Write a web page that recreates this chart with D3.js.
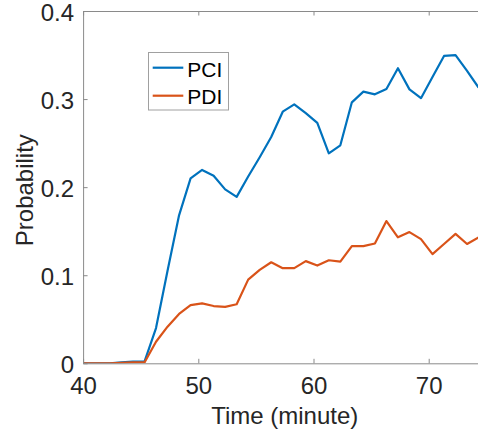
<!DOCTYPE html>
<html><head><meta charset="utf-8">
<script src="https://cdn.jsdelivr.net/npm/d3@7"></script>
<style>
html,body{margin:0;padding:0;background:#fff;}
svg{display:block;font-family:"Liberation Sans",Arial,Helvetica,sans-serif;}
</style></head>
<body>
<svg id="chart" width="478" height="437"></svg>
<script>
// ---- data ----
const times = [39.33,40.33,41.33,42.33,43.33,44.33,45.33,46.33,47.33,48.33,49.33,50.33,51.33,52.33,53.33,54.33,55.33,56.33,57.33,58.33,59.33,60.33,61.33,62.33,63.33,64.33,65.33,66.33,67.33,68.33,69.33,70.33,71.33,72.33,73.33,74.33];
const pci = [0,0,0,0,0.001,0.002,0.002,0.040,0.105,0.168,0.210,0.2195,0.213,0.1975,0.189,0.212,0.234,0.257,0.2857,0.294,0.284,0.273,0.2384,0.2475,0.2963,0.3084,0.3054,0.3114,0.335,0.311,0.301,0.325,0.349,0.350,0.332,0.313];
const pdi = [0,0,0,0,0.0005,0.001,0.001,0.0245,0.0416,0.056,0.066,0.068,0.065,0.064,0.067,0.095,0.106,0.1147,0.108,0.108,0.116,0.111,0.117,0.1154,0.133,0.133,0.136,0.1615,0.143,0.149,0.141,0.124,0.1355,0.147,0.1355,0.143];
const seriesNames = ["PCI","PDI"];
const seriesColors = ["#0072BD","#D95319"];
const xTicks = [40,50,60,70];
const yTicks = [0,0.1,0.2,0.3,0.4];
const xDomain = [40,75];
const yDomain = [0,0.4];

// ---- layout ----
const L = 83.1, R = 486.3, T = 11, B = 363.3;
const svg = d3.select("#chart");
const x = d3.scaleLinear().domain(xDomain).range([L,R]);
const y = d3.scaleLinear().domain(yDomain).range([B,T]);
const axisColor = "#8a8a8a", textColor = "#262626";
const fs = 24;

svg.append("defs").append("clipPath").attr("id","clip")
  .append("rect").attr("x",L).attr("y",T).attr("width",R-L).attr("height",B-T);

// lines
const line = d3.line().x((d,i)=>x(times[i])).y(d=>y(d));
[pci,pdi].forEach((s,k)=>{
  svg.append("path").datum(s).attr("clip-path","url(#clip)")
    .attr("d",line).attr("fill","none").attr("stroke",seriesColors[k])
    .attr("stroke-width",2.2).attr("stroke-linejoin","round");
});

// axes (MATLAB style: box, inward ticks)
const tl = 4.5;
const axB = svg.append("g").attr("transform",`translate(0,${B})`)
  .call(d3.axisBottom(x).tickValues(xTicks).tickSizeInner(-tl).tickSizeOuter(0).tickPadding(14));
const axT = svg.append("g").attr("transform",`translate(0,${T})`)
  .call(d3.axisTop(x).tickValues(xTicks).tickSizeInner(-tl).tickSizeOuter(0).tickFormat(""));
const axL = svg.append("g").attr("transform",`translate(${L},0)`)
  .call(d3.axisLeft(y).tickValues(yTicks).tickSizeInner(-tl).tickSizeOuter(0).tickPadding(9).tickFormat(d=>d===0?"0":d3.format(".1f")(d)));
const axR = svg.append("g").attr("transform",`translate(${R},0)`)
  .call(d3.axisRight(y).tickValues(yTicks).tickSizeInner(-tl).tickSizeOuter(0).tickFormat(""));
[axB,axT,axL,axR].forEach(g=>{
  g.selectAll("path.domain").attr("stroke",axisColor).attr("stroke-width",1);
  g.selectAll(".tick line").attr("stroke",axisColor).attr("stroke-width",1);
  g.selectAll("text").attr("fill",textColor).attr("font-size",fs).attr("font-family","Liberation Sans, Arial, sans-serif");
});
axB.selectAll("text").attr("dy","0.71em");
axL.selectAll("text").attr("dy","0.38em");

// axis labels
svg.append("text").attr("x",(L+R)/2).attr("y",424.3).attr("text-anchor","middle")
  .attr("font-size",fs).attr("fill",textColor).text("Time (minute)");
svg.append("text").attr("transform",`translate(33.3,${(T+B)/2+3}) rotate(-90)`)
  .attr("text-anchor","middle").attr("font-size",fs).attr("fill",textColor).text("Probability");

// legend
const lg = svg.append("g");
lg.append("rect").attr("x",148.5).attr("y",52.5).attr("width",80).attr("height",57.5)
  .attr("fill","#fff").attr("stroke","#a0a0a0").attr("stroke-width",1);
const rows = [{y:67.7, base:76.7},{y:95.7, base:104}];
seriesNames.forEach((n,k)=>{
  lg.append("line").attr("x1",152.7).attr("x2",183.3).attr("y1",rows[k].y).attr("y2",rows[k].y)
    .attr("stroke",seriesColors[k]).attr("stroke-width",2.2);
  lg.append("text").attr("x",187.3).attr("y",rows[k].base).attr("font-size",21)
    .attr("fill","#000").text(n);
});
</script>
</body></html>
